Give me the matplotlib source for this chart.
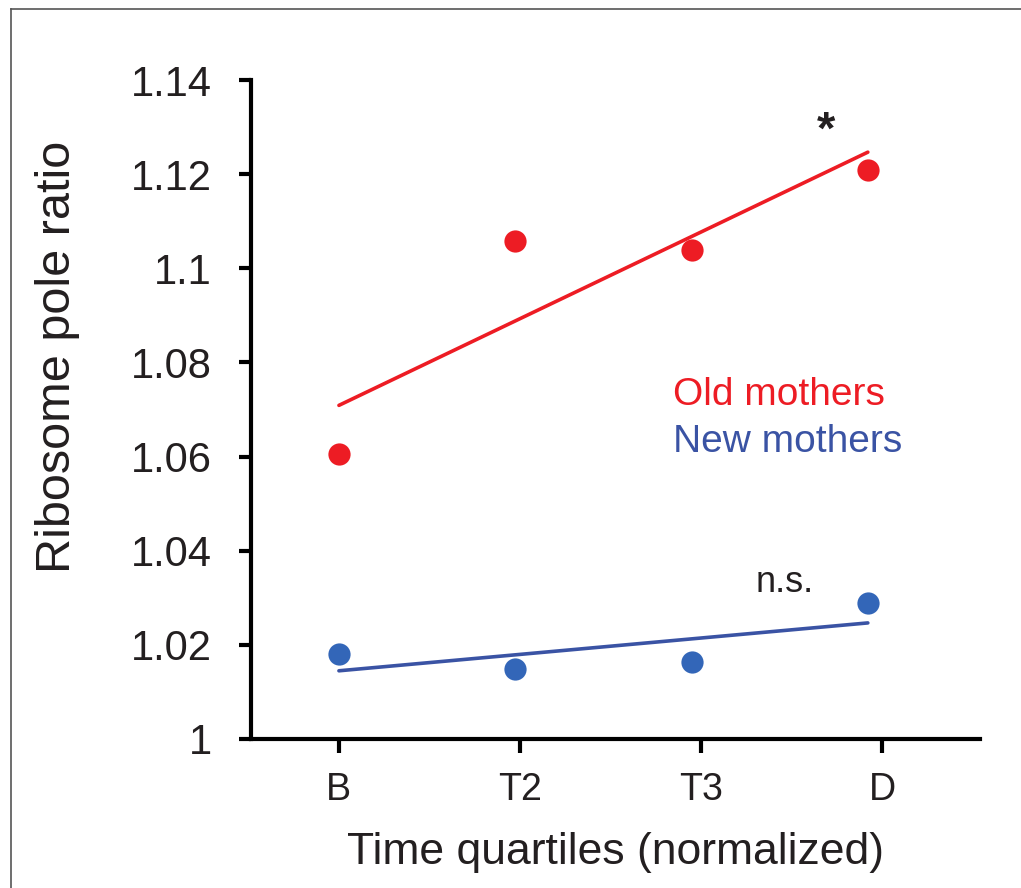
import numpy as np
import matplotlib.pyplot as plt
from matplotlib.lines import Line2D

plt.rcParams['font.family'] = ['Liberation Sans', 'DejaVu Sans']

# data
quartiles = ['B', 'T2', 'T3', 'D']
old_mothers = [1.0605, 1.1058, 1.1039, 1.1209]
new_mothers = [1.0181, 1.0149, 1.0164, 1.0289]
yticks = [1, 1.02, 1.04, 1.06, 1.08, 1.10, 1.12, 1.14]
ytick_labels = ['1', '1.02', '1.04', '1.06', '1.08', '1.1', '1.12', '1.14']

red = '#ED1C24'
blue_pt = '#3366B8'
blue_ln = '#3A53A4'
txt = '#231F20'

x = np.arange(len(quartiles))

fig = plt.figure(figsize=(10.21, 8.88), dpi=100)
ax = fig.add_axes([0.2458, 0.1678, 0.714, 0.7421])

# regression lines
for vals, col in [(old_mothers, red), (new_mothers, blue_ln)]:
    b1, b0 = np.polyfit(x, vals, 1)
    ax.plot([x[0], x[-1]], [b0 + b1 * x[0], b0 + b1 * x[-1]], color=col, lw=2.6, solid_capstyle='round', zorder=2)

ax.plot(x, old_mothers, 'o', color=red, ms=16, mec='none', zorder=3)
ax.plot(x, new_mothers, 'o', color=blue_pt, ms=16, mec='none', zorder=3)

ax.set_xlim(-0.499, 3.636)
ax.set_ylim(1, 1.14)
ax.set_yticks(yticks)
ax.set_yticklabels(ytick_labels)
ax.set_xticks(x * 1.027)
ax.set_xticklabels(quartiles)

for s in ['top', 'right']:
    ax.spines[s].set_visible(False)
for s in ['left', 'bottom']:
    ax.spines[s].set_linewidth(3)
    ax.spines[s].set_color('black')
ax.tick_params(axis='y', length=9, width=3, labelsize=30, pad=19, colors='black', labelcolor=txt)
ax.tick_params(axis='x', length=10, width=3, labelsize=27, pad=14, colors='black', labelcolor=txt)

ax.set_ylabel('Ribosome pole ratio', fontsize=35, color=txt)
ax.yaxis.set_label_coords(-0.2346, 0.58)
ax.set_xlabel('Time quartiles (normalized)', fontsize=32, color=txt, labelpad=17)

ax.text(1.894, 1.0710, 'Old mothers', color=red, fontsize=28, ha='left', va='baseline')
ax.text(1.894, 1.0610, 'New mothers', color=blue_ln, fontsize=28, ha='left', va='baseline')
ax.text(2.53, 1.0312, 'n.s.', color=txt, fontsize=26, ha='center', va='baseline')
ax.text(2.762, 1.1290, '*', color=txt, fontsize=34, fontweight='bold', ha='center', va='center')

# gray frame of the panel
fig.add_artist(Line2D([11/1021, 11/1021], [0, 1 - 9/888], color='#555555', lw=1.2))
fig.add_artist(Line2D([11/1021, 1], [1 - 9/888, 1 - 9/888], color='#555555', lw=1.2))

fig.savefig('out.png', dpi=100)
